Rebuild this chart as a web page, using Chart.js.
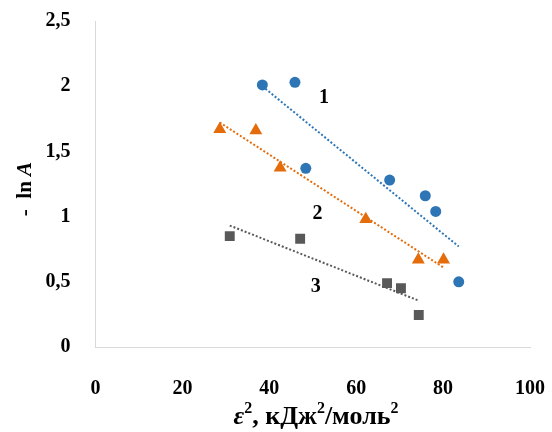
<!DOCTYPE html>
<html><head><meta charset="utf-8">
<script src="https://cdn.jsdelivr.net/npm/chart.js@4/dist/chart.umd.min.js"></script>
<style>html,body{margin:0;padding:0;background:#fff}canvas{display:block}</style>
</head><body>
<canvas id="c" width="552" height="432"></canvas>
<script>
// ---- data ----
const seriesNames = ['1', '2', '3'];
const x1 = [38.4, 45.9, 48.4, 67.7, 75.9, 78.3, 83.6];
const y1 = [2.01, 2.03, 1.37, 1.28, 1.16, 1.04, 0.50];
const x2 = [28.6, 36.9, 42.5, 62.2, 74.3, 80.1];
const y2 = [1.67, 1.66, 1.375, 0.98, 0.67, 0.67];
const x3 = [30.9, 47.1, 67.1, 70.3, 74.4];
const y3 = [0.85, 0.83, 0.49, 0.45, 0.245];
// series number annotations (data coordinates)
const labelX = [52.6, 51.1, 50.7];
const labelY = [1.91, 1.02, 0.46];

const colors = ['#2E75B6', '#E46C0A', '#595959'];
const serif = '"Liberation Serif", "Times New Roman", serif';

function pts(xs, ys) { return xs.map((x, i) => ({ x: x, y: ys[i] })); }
function trend(xs, ys) {
  const n = xs.length;
  const mx = xs.reduce((a, b) => a + b, 0) / n;
  const my = ys.reduce((a, b) => a + b, 0) / n;
  let sxy = 0, sxx = 0;
  for (let i = 0; i < n; i++) { sxy += (xs[i] - mx) * (ys[i] - my); sxx += (xs[i] - mx) ** 2; }
  const b = sxy / sxx, a = my - b * mx;
  const lo = Math.min(...xs), hi = Math.max(...xs);
  return [{ x: lo, y: a + b * lo }, { x: hi, y: a + b * hi }];
}

const xsAll = [x1, x2, x3], ysAll = [y1, y2, y3];
const styles = ['circle', 'triangle', 'rect'];
const radii = [5.5, 7.5, 7];

const datasets = [];
for (let i = 0; i < 3; i++) {
  datasets.push({
    type: 'line', label: 'trend ' + seriesNames[i], data: trend(xsAll[i], ysAll[i]),
    borderColor: colors[i], borderWidth: 2, borderDash: [2, 2], pointRadius: 0,
    showLine: true, fill: false, order: 2
  });
}
for (let i = 0; i < 3; i++) {
  datasets.push({
    type: 'scatter', label: seriesNames[i], data: pts(xsAll[i], ysAll[i]),
    backgroundColor: colors[i], borderColor: colors[i], borderWidth: 0,
    pointStyle: styles[i], pointRadius: radii[i], pointHoverRadius: radii[i], order: 1
  });
}

function drawPieces(ctx, pieces, cx, cy) {
  let total = 0;
  pieces.forEach(p => { ctx.font = p.font; p.w = ctx.measureText(p.t).width; total += p.w; });
  let x = cx - total / 2;
  ctx.textBaseline = 'middle'; ctx.textAlign = 'left';
  pieces.forEach(p => { ctx.font = p.font; ctx.fillText(p.t, x, cy + (p.dy || 0)); x += p.w; });
}

const extras = {
  id: 'extras',
  afterDraw(chart) {
    const ctx = chart.ctx, xs = chart.scales.x, ys = chart.scales.y;
    ctx.save();
    ctx.fillStyle = '#000';
    ctx.font = 'bold 20px ' + serif;
    ctx.textAlign = 'center'; ctx.textBaseline = 'middle';
    for (let i = 0; i < seriesNames.length; i++) {
      ctx.fillText(seriesNames[i], xs.getPixelForValue(labelX[i]), ys.getPixelForValue(labelY[i]));
    }
    const B = 'bold 26px ' + serif, BI = 'italic bold 26px ' + serif, S = 'bold 16px ' + serif;
    // x-axis title
    drawPieces(ctx, [
      { t: 'ε', font: BI }, { t: '2', font: S, dy: -8 }, { t: ', кДж', font: B },
      { t: '2', font: S, dy: -8 }, { t: '/моль', font: B }, { t: '2', font: S, dy: -8 }
    ], 316, 417);
    // y-axis title
    const B2 = 'bold 21px ' + serif, BI2 = 'italic bold 21px ' + serif;
    ctx.translate(26, 189);
    ctx.rotate(-Math.PI / 2);
    drawPieces(ctx, [{ t: '-  ln ', font: B2 }, { t: 'A', font: BI2 }], 0, 0);
    ctx.restore();
  }
};

const fmt = v => String(v).replace('.', ',');

new Chart(document.getElementById('c'), {
  data: { datasets: datasets },
  options: {
    responsive: false, animation: false,
    layout: { padding: { top: 21, right: 22, left: 0, bottom: 0 } },
    plugins: { legend: { display: false }, tooltip: { enabled: false } },
    scales: {
      x: {
        type: 'linear', min: 0, max: 100,
        grid: { display: false, drawTicks: false },
        border: { display: true, color: '#D9D9D9', width: 1 },
        ticks: { stepSize: 20, padding: 30, color: '#000', font: { family: serif, size: 20, weight: 'bold' }, callback: fmt },
        afterFit(s) { s.height = 85; s.paddingLeft = 0; s.paddingRight = 0; }
      },
      y: {
        type: 'linear', min: 0, max: 2.5,
        grid: { display: false, drawTicks: false },
        border: { display: true, color: '#D9D9D9', width: 1 },
        ticks: { stepSize: 0.5, padding: 25, color: '#000', font: { family: serif, size: 20, weight: 'bold' }, callback: fmt },
        afterFit(s) { s.width = 95.5; s.paddingTop = 0; s.paddingBottom = 0; }
      }
    }
  },
  plugins: [extras]
});
</script>
</body></html>
